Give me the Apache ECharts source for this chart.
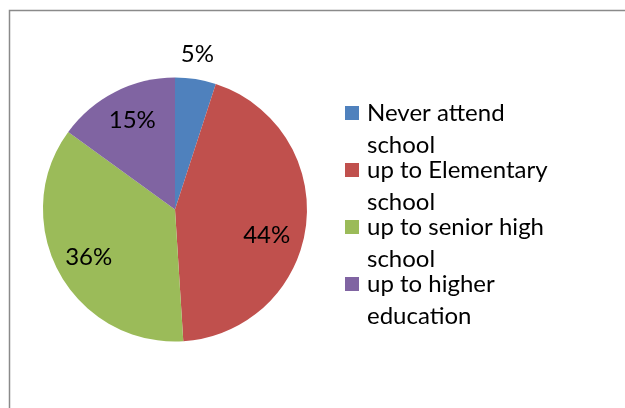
<!DOCTYPE html>
<html>
<head>
<meta charset="utf-8">
<script src="https://cdn.jsdelivr.net/npm/echarts@6/dist/echarts.min.js"></script>
<style>
  html, body { margin: 0; padding: 0; background: #ffffff; }
  #chart { width: 625px; height: 408px; }
</style>
</head>
<body>
<div id="chart"></div>
<script>
// Education level shares (percent)
const categories = [
  'Never attend\nschool',
  'up to Elementary\nschool',
  'up to senior high\nschool',
  'up to higher\neducation'
];
const shares = [5, 44, 36, 15];
const colors = ['#4F81BD', '#C0504D', '#9BBB59', '#8064A2'];

// Per-slice nudges for the percentage labels
const labelOffsets = [[7, -58], [-6, 13], [0, 0], [2, -1]];

const FONT = 'Lato';

const pieData = categories.map((name, i) => ({
  name: name,
  value: shares[i],
  itemStyle: { color: colors[i] }
}));

// Transparent ring that carries the labels at ~72% of the radius
const labelData = categories.map((name, i) => ({
  name: name,
  value: shares[i],
  itemStyle: { color: 'rgba(0,0,0,0)' },
  label: { offset: labelOffsets[i] }
}));

// Square legend swatch aligned with the first text line
const swatch = 'path://M0,0 L14,0 L14,14 L0,14 Z M0,46 L14,46';

const chart = echarts.init(document.getElementById('chart'), null, { renderer: 'canvas' });
chart.setOption({
  animation: false,
  backgroundColor: '#ffffff',
  graphic: [{
    type: 'rect',
    left: 7, top: 8,
    shape: { width: 700, height: 500 },
    style: { fill: 'none', stroke: '#8a8a8a', lineWidth: 1.5 },
    silent: true
  }],
  legend: {
    orient: 'vertical',
    left: 345,
    top: 97,
    padding: 0,
    icon: swatch,
    itemWidth: 14,
    itemHeight: 46,
    itemGap: -7,
    selectedMode: false,
    data: categories,
    textStyle: {
      fontFamily: FONT,
      fontSize: 24,
      color: '#000000',
      lineHeight: 32,
      padding: [0, 0, 0, 3]
    }
  },
  series: [
    {
      type: 'pie',
      center: [175, 209.5],
      radius: [0, 132],
      startAngle: 90,
      clockwise: true,
      data: pieData,
      label: { show: false },
      labelLine: { show: false },
      itemStyle: { borderWidth: 0 },
      emphasis: { disabled: true },
      silent: true
    },
    {
      type: 'pie',
      center: [175, 209.5],
      radius: [59, 132],
      startAngle: 90,
      clockwise: true,
      data: labelData,
      label: {
        show: true,
        position: 'inside',
        formatter: (p) => p.value + '%',
        fontFamily: FONT,
        fontSize: 24,
        color: '#000000'
      },
      labelLine: { show: false },
      itemStyle: { borderWidth: 0 },
      emphasis: { disabled: true },
      silent: true,
      legendHoverLink: false
    }
  ]
});
</script>
</body>
</html>
